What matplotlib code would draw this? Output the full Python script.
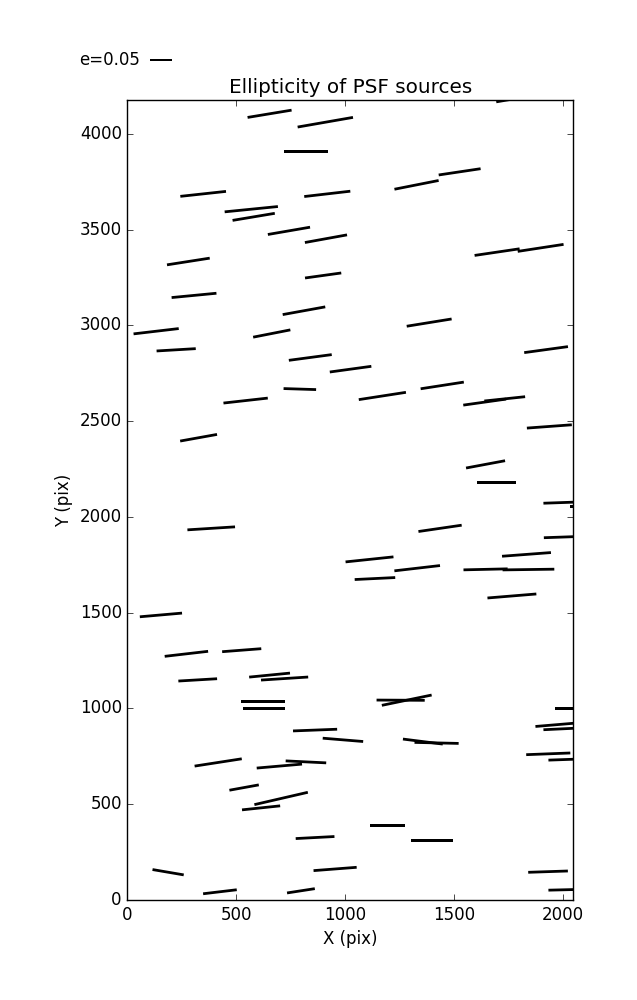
import numpy as np
import matplotlib
matplotlib.use('Agg')
import matplotlib.pyplot as plt

plt.style.use('classic')

# star positions (pix), ellipticity and position angle (deg)
x = [653, 909, 820, 1786, 348, 918, 1328, 1526, 569, 580,
     742, 912, 280, 899, 1698, 1898, 306, 811, 1386, 132,
     663, 224, 840, 1923, 1025, 543, 792, 1171, 1446, 1641,
     1733, 1938, 327, 1645, 1695, 2007, 2129, 385, 1436, 2011,
     1112, 1833, 1331, 1645, 1842, 1137, 1766, 154, 271, 525,
     323, 653, 722, 624, 628, 1255, 1283, 2062, 1970, 2007,
     862, 990, 1357, 1420, 1933, 2030, 417, 698, 820, 536,
     706, 614, 1195, 862, 1400, 187, 954, 1932, 425, 797, 2030]
y = [4104, 4060, 3909, 4184, 3686, 3686, 3733, 3801, 3606, 3566,
     3493, 3452, 3333, 3260, 3382, 3404, 3156, 3076, 3014, 2969,
     2957, 2872, 2832, 2873, 2771, 2607, 2667, 2631, 2686, 2599,
     2616, 2472, 2413, 2274, 2179, 2075, 2054, 1940, 1940, 1895,
     1778, 1804, 1732, 1726, 1725, 1678, 1587, 1488, 1285, 1304,
     1149, 1174, 1156, 1038, 998, 1043, 1043, 1000, 915, 894,
     887, 836, 827, 820, 763, 734, 718, 699, 721, 587,
     530, 481, 387, 326, 311, 145, 162, 148, 43, 48, 54]
e = [0.100, 0.126, 0.099, 0.091, 0.103, 0.104, 0.101, 0.095, 0.120, 0.096,
     0.096, 0.096, 0.097, 0.082, 0.102, 0.104, 0.101, 0.097, 0.102, 0.102,
     0.085, 0.088, 0.097, 0.099, 0.094, 0.100, 0.073, 0.107, 0.098, 0.097,
     0.092, 0.101, 0.084, 0.089, 0.089, 0.094, 0.094, 0.107, 0.098, 0.096,
     0.108, 0.110, 0.103, 0.099, 0.116, 0.091, 0.110, 0.095, 0.098, 0.088,
     0.087, 0.092, 0.106, 0.098, 0.094, 0.108, 0.114, 0.094, 0.094, 0.094,
     0.099, 0.091, 0.090, 0.099, 0.099, 0.094, 0.107, 0.102, 0.091, 0.067,
     0.123, 0.086, 0.079, 0.087, 0.094, 0.071, 0.097, 0.089, 0.076, 0.063, 0.094]
theta = [9.4, 9.9, 0.0, 9.6, 6.2, 6.6, 11.2, 8.5, 5.7, 9.5,
         9.8, 10.3, 8.9, 7.9, 8.4, 8.7, 5.5, 10.3, 9.2, 6.7,
         11.1, 3.4, 7.6, 7.8, 7.8, 6.4, -1.8, 8.8, 8.8, 8.0,
         6.0, 4.2, 10.2, 10.6, 0.0, 2.0, 0.0, 3.6, 8.3, 2.0,
         6.0, 4.3, 6.6, 1.3, 0.8, 2.8, 4.7, 5.0, 6.6, 4.4,
         3.4, 5.6, 3.7, 0.0, 0.0, -0.3, 11.7, 0.0, 4.8, 2.7,
         2.2, -4.7, -7.2, -1.3, 2.2, 2.0, 8.8, 5.0, -2.8, 10.3,
         13.0, 6.0, 0.0, 3.0, 0.0, -9.7, 4.4, 1.9, 6.8, 8.8, 1.4]

e = np.array(e)
th = np.radians(theta)
u = e * np.cos(th)
v = e * np.sin(th)

fig = plt.figure(figsize=(6.37, 10), dpi=100, facecolor='white')
ax = fig.add_axes([0.2, 0.1, 0.7, 0.8])

q = ax.quiver(x, y, u, v, color='k', pivot='middle', scale=1.0,
              scale_units='width', width=0.0062,
              headwidth=0, headlength=0, headaxislength=0)
ax.quiverkey(q, 0.2355, 0.94, 0.05, 'e=0.05', labelpos='W',
             coordinates='figure')

ax.set_xlim(0, 2048)
ax.set_ylim(0, 4176)
ax.set_title("Ellipticity of PSF sources")
ax.set_xlabel("X (pix)")
ax.set_ylabel("Y (pix)")

fig.savefig('out.png', dpi=100, facecolor='white')
